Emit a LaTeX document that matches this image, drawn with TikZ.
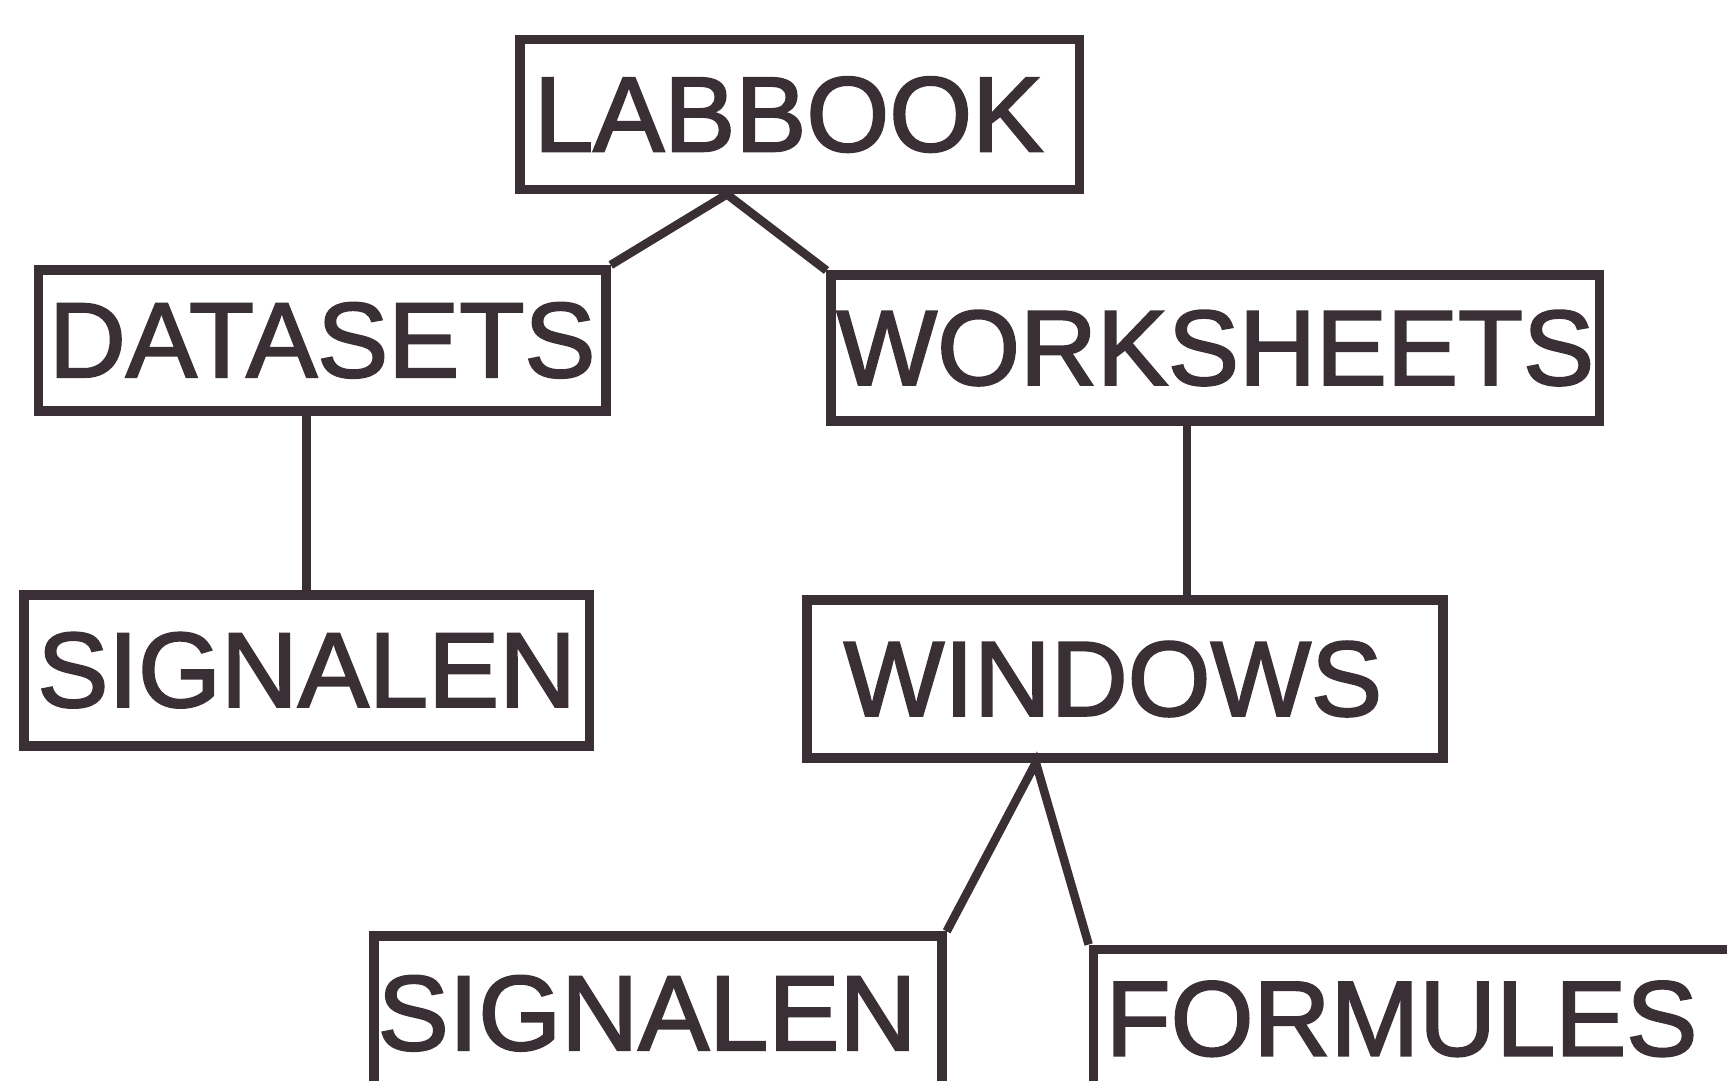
\documentclass[tikz,border=0pt]{standalone}
\usepackage{fontspec}
\setmainfont{Liberation Sans}
\newfontfamily\boxfont{Liberation Sans}[FakeBold=2]
\usetikzlibrary{calc}
\definecolor{ink}{RGB}{58,47,52}
\begin{document}
\begin{tikzpicture}[x=0.01cm,y=-0.01cm,
  box/.style={draw=ink, line width=2.5pt, text=ink, inner sep=0pt,
    font=\boxfont\fontsize{27.5}{30}\selectfont},
  link/.style={draw=ink, line width=2.2pt, line join=miter}]
\useasboundingbox (0,0) rectangle (1568,981);
\clip (0,0) rectangle (1568,981);

% boxes of the tree
\node[box, minimum width=5.08cm, minimum height=1.36cm] (lab) at (726,104) {LABBOOK\hspace*{0.2cm}};
\node[box, minimum width=5.15cm, minimum height=1.28cm] (dat) at (292.5,309) {DATASETS};
\node[box, minimum width=6.97cm, minimum height=1.32cm] (wor) at (1103.5,316) {WORKSHEETS};
\node[box, minimum width=5.13cm, minimum height=1.37cm] (sigl) at (278.5,608.5) {SIGNALEN};
\node[box, minimum width=5.77cm, minimum height=1.43cm] (win) at (1021.5,616.5) {WINDOWS\hspace*{0.22cm}};
\node[box, minimum width=5.15cm, minimum height=1.40cm] (sigb) at (597.5,920) {SIGNALEN\hspace*{0.2cm}};
\node[box, minimum width=5.87cm, minimum height=1.26cm] (form) at (1286.5,925) {FORMULES\hspace*{0.28cm}};

% connectors
\coordinate (labtip) at ($(lab.south)+(-66,0)$);
\draw[link] (dat.north east) -- (labtip) -- (wor.north west);
\draw[link] (sigl.north) -- (sigl.north |- dat.south);
\coordinate (wintop) at ($(win.north)+(56,0)$);
\draw[link] (wintop) -- (wintop |- wor.south);
\coordinate (wintip) at ($(win.south)+(-81,0)$);
\draw[link] (sigb.north east) -- (wintip) -- (form.north west);
\end{tikzpicture}
\end{document}
